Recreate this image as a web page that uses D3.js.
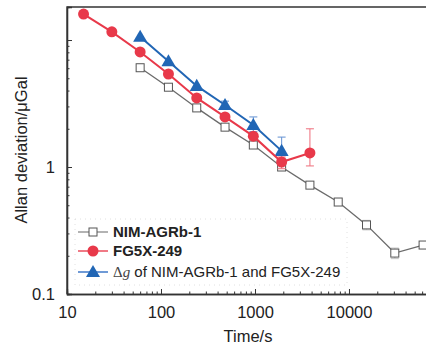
<!DOCTYPE html>
<html>
<head>
<meta charset="utf-8">
<script src="https://cdn.jsdelivr.net/npm/d3@7"></script>
<style>
  html, body { margin: 0; padding: 0; background: #fff; }
  svg { display: block; }
  text { font-family: "Liberation Sans", Arial, sans-serif; fill: #222; }
</style>
</head>
<body>
<svg id="chart" width="426" height="350"></svg>
<script>
// Allan deviation (µGal) vs averaging time (s)
const nimTau = [60, 120, 240, 480, 960, 1920, 3840, 7680, 15360, 30720, 61440]
const nimDev = [6.05, 4.25, 2.92, 2.06, 1.49, 1.0, 0.72, 0.53, 0.35, 0.21, 0.243]
const nimErr = [0, 0, 0, 0, 0, 0, 0.01, 0.015, 0.03, 0.02, 0.015]

const fgTau = [15, 30, 60, 120, 240, 480, 960, 1920, 3840]
const fgDev = [16.0, 11.6, 8.05, 5.4, 3.5, 2.48, 1.75, 1.095, 1.29]
const fgLo = [16.0, 11.6, 8.05, 5.4, 3.5, 2.48, 1.75, 0.97, 1.02]
const fgHi = [16.0, 11.6, 8.05, 5.4, 3.5, 2.48, 1.75, 1.2, 2.0]

const dgTau = [60, 120, 240, 480, 960, 1920]
const dgDev = [10.6, 6.8, 4.35, 3.08, 2.14, 1.34]
const dgLo = [10.6, 6.8, 4.35, 2.9, 1.9, 1.05]
const dgHi = [10.6, 6.8, 4.35, 3.3, 2.48, 1.72]

const xLabels = [10, 100, 1000, 10000]
const yLabels = [0.1, 1]

const legendItems = [
  { key: 'nim', label: 'NIM-AGRb-1' },
  { key: 'fg', label: 'FG5X-249' },
  { key: 'dg', label: ' of NIM-AGRb-1 and FG5X-249' }
]

const colors = { nim: '#6b6b6b', fg: '#e8394a', dg: '#2166b5' }
const lightColors = { nim: '#8a8a8a', fg: '#f07a86', dg: '#6f9ad6' }

const margin = { left: 67, top: 7, bottom: 294, right: 427 }
const svg = d3.select('#chart')

const x = d3.scaleLog().domain([10, Math.pow(10, 4.83)]).range([margin.left, margin.right])
const y = d3.scaleLog().domain([0.1, Math.pow(10, 1.26)]).range([margin.bottom, margin.top])

const axisColor = '#333'
const labelSize = 16.5

// Frame (top + left), right edge runs off canvas
svg.append('path')
  .attr('d', `M${margin.left},${margin.bottom}V${margin.top}H${margin.right}`)
  .attr('fill', 'none')
  .attr('stroke', axisColor)
  .attr('stroke-width', 1.3)

// X axis, inward ticks
const xMinor = x.ticks().filter(v => !xLabels.includes(v))
const gx = svg.append('g').attr('transform', `translate(0,${margin.bottom})`)
gx.call(d3.axisBottom(x).tickValues(xMinor).tickSize(-2.5).tickFormat(''))
gx.append('g').call(d3.axisBottom(x).tickValues(xLabels).tickSize(-5).tickPadding(12).tickFormat(d3.format('d')))
gx.selectAll('.domain').attr('stroke', axisColor).attr('stroke-width', 1.3)
gx.selectAll('.tick line').attr('stroke', axisColor)
gx.selectAll('.tick text').attr('font-size', labelSize).attr('fill', '#222')

// Y axis, inward ticks
const yMinor = y.ticks().filter(v => !yLabels.includes(v) && Math.abs(v - 10) > 1e-9)
const gy = svg.append('g').attr('transform', `translate(${margin.left},0)`)
gy.call(d3.axisLeft(y).tickValues(yMinor).tickSize(-2.5).tickFormat(''))
gy.append('g').call(d3.axisLeft(y).tickValues(yLabels.concat([10])).tickSize(-5).tickPadding(12)
  .tickFormat(d => d === 10 ? '' : (d < 1 ? '0.1' : '1')))
gy.selectAll('.domain').attr('stroke', axisColor).attr('stroke-width', 1.3)
gy.selectAll('.tick line').attr('stroke', axisColor)
gy.selectAll('.tick text').attr('font-size', labelSize).attr('fill', '#222')

// Axis titles
svg.append('text')
  .attr('x', 248).attr('y', 342)
  .attr('text-anchor', 'middle')
  .attr('font-size', labelSize)
  .text('Time/s')

svg.append('text')
  .attr('transform', 'translate(27,150) rotate(-90)')
  .attr('text-anchor', 'middle')
  .attr('font-size', labelSize)
  .text('Allan deviation/\u03bcGal')

// Legend box (faint dotted)
const legend = svg.append('g')
legend.append('rect')
  .attr('x', 75).attr('y', 219).attr('width', 272).attr('height', 66)
  .attr('fill', '#fff')
  .attr('stroke', '#d8d8d8')
  .attr('stroke-width', 0.8)
  .attr('stroke-dasharray', '1,4')

const plot = svg.append('g')

function series(tau, dev, color, width) {
  const line = d3.line().x((d, i) => x(tau[i])).y(d => y(d))
  plot.append('path')
    .datum(dev)
    .attr('d', line)
    .attr('fill', 'none')
    .attr('stroke', color)
    .attr('stroke-width', width)
}

function errorBars(tau, lo, hi, color) {
  const g = plot.append('g').attr('stroke', color).attr('stroke-width', 1.1).attr('fill', 'none')
  tau.forEach((t, i) => {
    if (hi[i] === lo[i]) return
    const cx = x(t)
    g.append('line').attr('x1', cx).attr('x2', cx).attr('y1', y(lo[i])).attr('y2', y(hi[i]))
    g.append('line').attr('x1', cx - 4).attr('x2', cx + 4).attr('y1', y(lo[i])).attr('y2', y(lo[i]))
    g.append('line').attr('x1', cx - 4).attr('x2', cx + 4).attr('y1', y(hi[i])).attr('y2', y(hi[i]))
  })
}

const triangle = d3.symbol().type(d3.symbolTriangle).size(85)

// NIM-AGRb-1
errorBars(nimTau, nimDev.map((d, i) => d - nimErr[i]), nimDev.map((d, i) => d + nimErr[i]), '#c8c8c8')
series(nimTau, nimDev, colors.nim, 1.3)
plot.append('g').selectAll('rect')
  .data(nimDev)
  .join('rect')
  .attr('x', (d, i) => x(nimTau[i]) - 4)
  .attr('y', d => y(d) - 4)
  .attr('width', 8).attr('height', 8)
  .attr('fill', '#fff')
  .attr('stroke', '#555')
  .attr('stroke-width', 1)

// Delta g
errorBars(dgTau, dgLo, dgHi, lightColors.dg)
series(dgTau, dgDev, colors.dg, 2)
plot.append('g').selectAll('path')
  .data(dgDev)
  .join('path')
  .attr('d', triangle)
  .attr('transform', (d, i) => `translate(${x(dgTau[i])},${y(d) + 1})`)
  .attr('fill', colors.dg)

// FG5X-249
errorBars(fgTau, fgLo, fgHi, lightColors.fg)
series(fgTau, fgDev, colors.fg, 2)
plot.append('g').selectAll('circle')
  .data(fgDev)
  .join('circle')
  .attr('cx', (d, i) => x(fgTau[i]))
  .attr('cy', d => y(d))
  .attr('r', 5.5)
  .attr('fill', colors.fg)

// Legend rows
const rowY = [232, 251, 272]
legendItems.forEach((item, i) => {
  const yy = rowY[i]
  legend.append('line')
    .attr('x1', 78).attr('x2', 108).attr('y1', yy).attr('y2', yy)
    .attr('stroke', lightColors[item.key])
    .attr('stroke-width', item.key === 'nim' ? 1.3 : 2)
  if (item.key === 'nim') {
    legend.append('rect').attr('x', 89).attr('y', yy - 4).attr('width', 8).attr('height', 8)
      .attr('fill', '#fff').attr('stroke', '#555')
  } else if (item.key === 'fg') {
    legend.append('circle').attr('cx', 93).attr('cy', yy).attr('r', 5.5).attr('fill', colors.fg)
  } else {
    legend.append('path').attr('d', triangle).attr('transform', `translate(93,${yy + 1})`).attr('fill', colors.dg)
  }
  const t = legend.append('text')
    .attr('x', 113).attr('y', yy + 5)
    .attr('font-size', 15)
  if (item.key === 'dg') {
    t.append('tspan').attr('font-family', '"Liberation Serif", "Times New Roman", serif').attr('fill', '#444').text('\u0394')
    t.append('tspan').attr('font-family', '"Liberation Serif", "Times New Roman", serif').attr('font-style', 'italic').attr('fill', '#444').text('g')
    t.append('tspan').attr('fill', '#222').text(item.label)
  } else {
    t.attr('font-weight', 'bold').attr('fill', '#111').text(item.label)
  }
})
</script>
</body>
</html>
